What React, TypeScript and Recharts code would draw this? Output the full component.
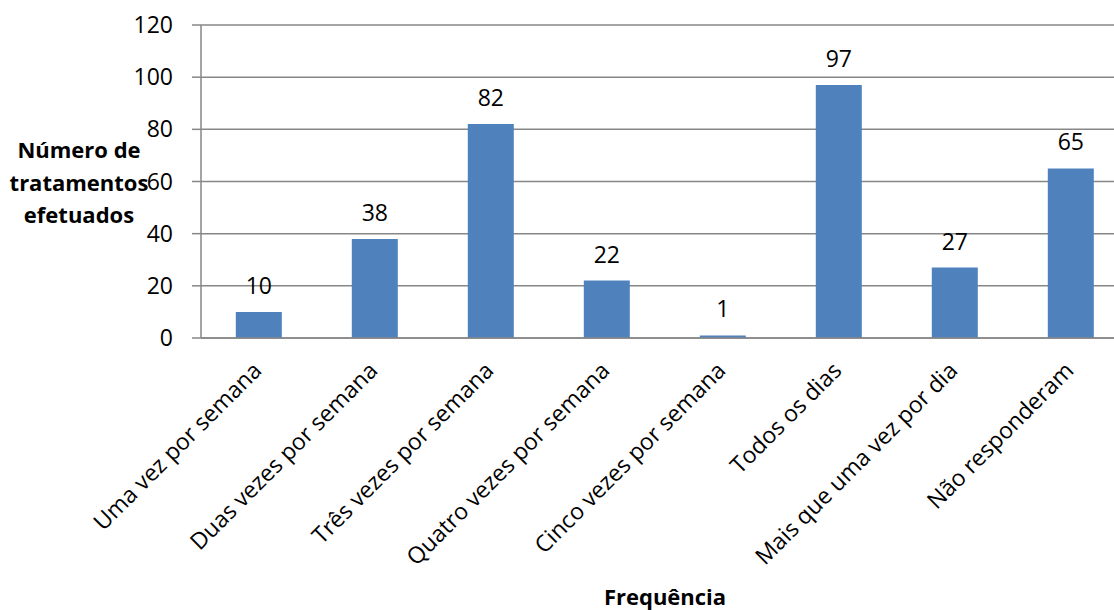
import React from "react";
import { BarChart, Bar, XAxis, YAxis, CartesianGrid, LabelList } from "recharts";

const categories = [
  "Uma vez por semana",
  "Duas vezes por semana",
  "Três vezes por semana",
  "Quatro vezes por semana",
  "Cinco vezes por semana",
  "Todos os dias",
  "Mais que uma vez por dia",
  "Não responderam",
];
const values = [10, 38, 82, 22, 1, 97, 27, 65];
const yTicks = [0, 20, 40, 60, 80, 100, 120];
const yTitleLines = ["Número de", "tratamentos", "efetuados"];
const xTitle = "Frequência";

const data = categories.map((c, i) => ({ name: c, value: values[i] }));

const FONT = "'Open Sans', sans-serif";
const GRAY = "#878787";

const XTick = (props: any) => {
  const { x, y, payload } = props;
  return (
    <g transform={`translate(${x + 4},${y + 26})`}>
      <text textAnchor="end" transform="rotate(-45)" fontSize={23} fill="#000" fontFamily={FONT}>
        {payload.value}
      </text>
    </g>
  );
};

const YTitle = (props: any) => {
  const vb = props.viewBox;
  const cx = vb.x + 79;
  const base = [133, 166, 198];
  return (
    <g>
      {yTitleLines.map((l, i) => (
        <text key={i} x={cx} y={vb.y + base[i]} textAnchor="middle" fontWeight="bold" fontSize={22} fontFamily={FONT} fill="#000">
          {l}
        </text>
      ))}
    </g>
  );
};

const XTitle = (props: any) => {
  const vb = props.viewBox;
  return (
    <text x={vb.x + vb.width / 2} y={vb.y + 267} textAnchor="middle" fontWeight="bold" fontSize={22} fontFamily={FONT} fill="#000">
      {xTitle}
    </text>
  );
};

export default function App() {
  return (
    <div style={{ position: "absolute", left: 0, top: 0, width: 1114, height: 610, overflow: "hidden", background: "#fff" }}>
      <BarChart
        width={1130}
        height={610}
        data={data}
        margin={{ top: 25, right: 1, bottom: 0, left: 0 }}
        barCategoryGap="30%"
      >
        <CartesianGrid vertical={false} stroke={GRAY} strokeWidth={1.5} />
        <XAxis
          dataKey="name"
          interval={0}
          height={272}
          tickLine={false}
          axisLine={{ stroke: GRAY, strokeWidth: 1.5 }}
          tick={<XTick />}
          label={<XTitle />}
        />
        <YAxis
          width={201}
          domain={[0, 120]}
          ticks={yTicks}
          tickSize={9}
          tickMargin={19}
          tickLine={{ stroke: GRAY, strokeWidth: 1.5 }}
          axisLine={{ stroke: GRAY, strokeWidth: 1.5 }}
          tick={{ fontSize: 23, fill: "#000", fontFamily: FONT }}
          label={<YTitle />}
        />
        <Bar dataKey="value" fill="#4F81BD" isAnimationActive={false}>
          <LabelList dataKey="value" position="top" offset={18} fontSize={23} fill="#000" fontFamily={FONT} />
        </Bar>
      </BarChart>
    </div>
  );
}
